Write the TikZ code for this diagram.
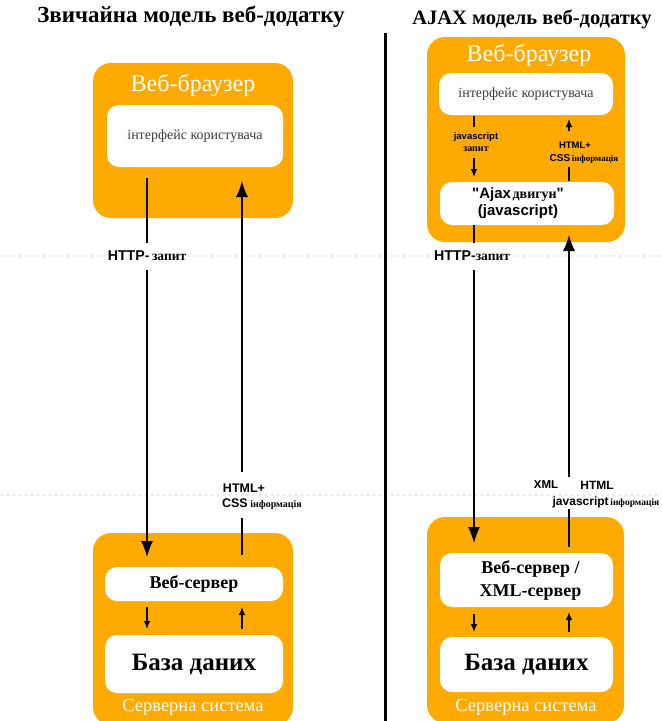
\documentclass[tikz,border=0pt]{standalone}
\usepackage{fontspec}
\setmainfont{Liberation Serif}
\setsansfont{Liberation Sans}
\usetikzlibrary{arrows.meta}

\definecolor{amber}{RGB}{255,170,0}
\definecolor{dotgray}{RGB}{200,200,200}
\definecolor{uitext}{RGB}{60,60,60}

% Latin part of a label (bold sans) and Cyrillic part (bold serif)
\newcommand{\latin}[2]{{\fontsize{#1}{#1}\sffamily\bfseries #2}}
\newcommand{\cyr}[2]{{\fontsize{#1}{#1}\rmfamily\bfseries #2}}

\tikzset{
  panel/.style={fill=amber, draw=none, rounded corners=18pt, inner sep=0pt},
  inner/.style={fill=white, draw=none, rounded corners=12pt, inner sep=0pt, align=center},
  heading/.style={font=\bfseries, inner sep=0pt},
  paneltitle/.style={text=white, font=\fontsize{24}{26}\selectfont, inner sep=0pt},
  sysname/.style={text=white, font=\fontsize{18.5}{20}\selectfont, inner sep=0pt},
  tag/.style={inner sep=1pt, align=center},
  wtag/.style={fill=white, inner sep=2pt, align=center},
  bigarrow/.style={line width=1.4pt, -{Latex[length=16pt,width=12pt]}},
  bigline/.style={line width=1.4pt},
  smallarrow/.style={line width=1.1pt, -{Latex[length=8pt,width=6.5pt]}},
  smallline/.style={line width=1.1pt},
  sep/.style={dotgray, line width=1.7pt, line cap=round, dash pattern=on 0pt off 6pt},
}

\begin{document}
\begin{tikzpicture}[x=1pt, y=-1pt]
\useasboundingbox (0,0) rectangle (662,721);
\clip (0,0) rectangle (662,721);

% zone separators and the divider between the two models
\draw[sep] (2,256) -- (662,256);
\draw[sep] (2,495) -- (662,495);
\draw[line width=3pt] (385,33) -- (385,721);

% headings
\node[heading, font=\fontsize{23}{25}\selectfont\bfseries] (hL) at (191,17) {Звичайна модель веб-додатку};
\node[heading, font=\fontsize{20.5}{23}\selectfont\bfseries] (hR) at (532,19) {AJAX модель веб-додатку};

% ---------------- classic model ----------------
\node[panel, minimum width=200pt, minimum height=155pt] (bL) at (193,140.5) {};
\node[paneltitle] (bLt) at (193,85) {Веб-браузер};
\node[inner, minimum width=176pt, minimum height=62pt, text=uitext,
      font=\fontsize{14}{16}\selectfont] (uiL) at (195,136) {інтерфейс користувача};

\node[panel, minimum width=200pt, minimum height=192pt] (sL) at (193,629) {};
\node[inner, minimum width=178pt, minimum height=34pt,
      font=\fontsize{18}{20}\selectfont\bfseries] (wsL) at (194,584) {Веб-сервер};
\node[inner, minimum width=178pt, minimum height=58pt,
      font=\fontsize{25}{27}\selectfont\bfseries] (dbL) at (194,664) {База даних};
\node[sysname] (sLt) at (193,707) {Серверна система};

% request / response labels
\node[wtag] (qL) at (147,256) {\latin{14.2}{HTTP-} \cyr{13.5}{запит}};
\node[tag] (rL) at (262,497) {\latin{12.5}{HTML+}\hspace*{36pt}\\[3pt]\latin{12.5}{CSS} \cyr{10}{інформація}};

\coordinate (qLa) at (147,178);
\coordinate (qLb) at (147,243);
\coordinate (qLc) at (147,270);
\coordinate (qLd) at (147,557);
\draw[bigline] (qLa) -- (qLb);
\draw[bigarrow] (qLc) -- (qLd);

\coordinate (rLa) at (242,555);
\coordinate (rLb) at (242,518);
\coordinate (rLc) at (242,472);
\coordinate (rLd) at (242,181);
\draw[bigline] (rLa) -- (rLb);
\draw[bigarrow] (rLc) -- (rLd);

\coordinate (dLa) at (147,607);
\coordinate (dLb) at (147,629);
\coordinate (uLa) at (242,629);
\coordinate (uLb) at (242,607);
\draw[smallarrow] (dLa) -- (dLb);
\draw[smallarrow] (uLa) -- (uLb);

% ---------------- AJAX model ----------------
\node[panel, minimum width=198pt, minimum height=205pt] (bR) at (526,139.5) {};
\node[paneltitle] (bRt) at (529,55) {Веб-браузер};
\node[inner, minimum width=174pt, minimum height=42pt, text=uitext,
      font=\fontsize{14}{16}\selectfont] (uiR) at (526,94) {інтерфейс користувача};
\node[inner, minimum width=174pt, minimum height=43pt] (ajR) at (527,203.5) {};
\node[tag] (ajRt) at (518,203.5)
  {\latin{15}{\textquotedbl Ajax}\,\cyr{14}{двигун}\latin{15}{\textquotedbl}\\[2pt]\latin{15}{(javascript)}};

\node[panel, minimum width=197pt, minimum height=206pt] (sR) at (525.5,620) {};
\node[inner, minimum width=173pt, minimum height=54pt,
      font=\fontsize{18}{23}\selectfont\bfseries] (wsR) at (526.5,580)
  {\hspace*{8pt}Веб-сервер /\\\hspace*{8pt}XML-сервер};
\node[inner, minimum width=173pt, minimum height=55pt,
      font=\fontsize{25}{27}\selectfont\bfseries] (dbR) at (526.5,664.5) {База даних};
\node[sysname] (sRt) at (526,707) {Серверна система};

% browser-internal exchange
\node[tag] (jq) at (476,142) {\latin{9.5}{javascript}\\[0pt]\cyr{10}{запит}};
\node[tag] (jr) at (584,153) {\latin{9.5}{HTML+}\hspace*{18pt}\\[1pt]\latin{10}{CSS}\,\cyr{9}{інформація}};

\coordinate (jqa) at (474,116);
\coordinate (jqb) at (474,127);
\coordinate (jqc) at (474,158);
\coordinate (jqd) at (474,177);
\draw[smallline] (jqa) -- (jqb);
\draw[smallarrow] (jqc) -- (jqd);

\coordinate (jra) at (569,181);
\coordinate (jrb) at (569,167);
\coordinate (jrc) at (569,131);
\coordinate (jrd) at (569,119);
\draw[smallline] (jra) -- (jrb);
\draw[smallarrow] (jrc) -- (jrd);

% browser <-> server exchange
\node[wtag] (qR) at (472,256) {\latin{14.2}{HTTP-}\cyr{13.5}{запит}};
\node[tag] (xR1) at (546,485) {\latin{11.5}{XML}};
\node[tag] (xR2) at (597,485) {\latin{12}{HTML}};
\node[tag] (xR3) at (606,502) {\latin{12}{javascript}\,\cyr{9.5}{інформація}};

\coordinate (qRa) at (474,225);
\coordinate (qRb) at (474,243);
\coordinate (qRc) at (474,270);
\coordinate (qRd) at (474,543);
\draw[bigline] (qRa) -- (qRb);
\draw[bigarrow] (qRc) -- (qRd);

\coordinate (rRa) at (569,547);
\coordinate (rRb) at (569,509);
\coordinate (rRc) at (569,477);
\coordinate (rRd) at (569,235);
\draw[bigline] (rRa) -- (rRb);
\draw[bigarrow] (rRc) -- (rRd);

\coordinate (dRa) at (474,614);
\coordinate (dRb) at (474,632);
\coordinate (uRa) at (569,632);
\coordinate (uRb) at (569,612);
\draw[smallarrow] (dRa) -- (dRb);
\draw[smallarrow] (uRa) -- (uRb);
\end{tikzpicture}
\end{document}
